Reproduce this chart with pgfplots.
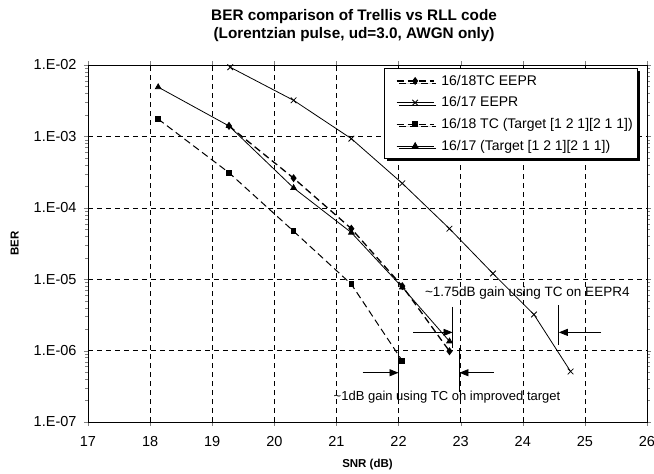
\documentclass[border=0pt]{standalone}
\usepackage{fontspec}
\setmainfont{Liberation Sans}
\usepackage{pgfplots}
\pgfplotsset{compat=1.18}
\usetikzlibrary{arrows.meta,shadows}

\begin{document}
\begin{tikzpicture}
\begin{axis}[
    name=ber,
    scale only axis,
    width=559pt, height=357pt,
    ymode=log,
    xmin=17, xmax=26,
    ymin=1e-7, ymax=1e-2,
    xtick={17,18,...,26},
    ytick={1e-7,1e-6,1e-5,1e-4,1e-3,1e-2},
    yticklabels={1.E-07,1.E-06,1.E-05,1.E-04,1.E-03,1.E-02},
    minor ytick={},
    /pgf/number format/assume math mode=true,
    tick label style={font=\fontsize{14.5}{16}\selectfont},
    xticklabel style={yshift=-7pt},
    yticklabel style={xshift=-4pt},
    tick align=outside,
    major tick length=4pt,
    grid=major,
    grid style={black, dash pattern=on 5pt off 4pt, line width=0.5pt},
    axis line style={black, line width=0.8pt},
    title={BER comparison of Trellis vs RLL code\\(Lorentzian pulse, ud=3.0, AWGN only)},
    title style={at={(axis description cs:0.476,1)}, anchor=south, yshift=14pt,
        align=center, font=\bfseries\fontsize{15.3}{18}\selectfont},
    xlabel={SNR (dB)},
    ylabel={BER},
    label style={font=\bfseries\fontsize{11.5}{13}\selectfont},
    xlabel style={at={(axis description cs:0.5,0)}, anchor=center, yshift=-43pt},
    ylabel style={at={(axis description cs:-0.131,0.5)}, anchor=center},
    legend style={at={(axis description cs:0.984,0.992)}, anchor=north east,
        draw=black, fill=white, line width=0.6pt,
        font=\fontsize{14}{15}\selectfont,
        drop shadow={fill=black, shadow xshift=2.5pt, shadow yshift=-2.5pt, opacity=1},
        row sep=6pt, inner xsep=3pt, inner ysep=5pt},
    legend cell align=left,
    legend image code/.code={%
        \node[inner sep=0pt, minimum size=0pt, draw=none, fill=none] at (-10pt,0pt) {};
        \node[inner sep=0pt, minimum size=0pt, draw=none, fill=none] at (42pt,0pt) {};
        \draw[mark repeat=2,mark phase=2]
        plot coordinates {(0pt,0pt) (18.5pt,0pt) (37pt,0pt)};},
]

% 16/18TC EEPR
\addplot[black, dash pattern=on 7pt off 4pt, line width=1.3pt, mark=diamond*, mark size=3pt,
    mark options={solid}]
    coordinates {(19.27,1.4e-3)(20.31,2.6e-4)(21.24,5.1e-5)(22.06,8.0e-6)(22.82,9.8e-7)};
\addlegendentry{16/18TC EEPR}

% 16/17 EEPR
\addplot[black, line width=0.8pt, mark=x, mark size=4pt]
    coordinates {(19.29,9.3e-3)(20.31,3.2e-3)(21.24,9.3e-4)(22.06,2.2e-4)(22.82,5.1e-5)
    (23.52,1.2e-5)(24.18,3.2e-6)(24.77,5.1e-7)};
\addlegendentry{16/17 EEPR}

% 16/18 TC target
\addplot[black, dash pattern=on 7pt off 4pt, line width=1.0pt, mark=square*, mark size=2.3pt,
    mark options={solid}]
    coordinates {(18.13,1.75e-3)(19.27,3.1e-4)(20.31,4.7e-5)(21.24,8.5e-6)(22.06,7.2e-7)};
\addlegendentry{16/18 TC (Target [1 2 1][2 1 1])}

% 16/17 target
\addplot[black, line width=0.8pt, mark=triangle*, mark size=3.2pt]
    coordinates {(18.13,4.9e-3)(19.27,1.4e-3)(20.31,1.9e-4)(21.24,4.5e-5)(22.06,7.7e-6)(22.82,1.35e-6)};
\addlegendentry{16/17 (Target [1 2 1][2 1 1])}

% annotations
\begin{scope}[line width=0.8pt, >={Triangle[length=9pt,width=7pt]}]
\draw (axis cs:22.87,4.1e-6) -- (axis cs:22.87,1.1e-6);
\draw[->] (axis cs:22.24,1.8e-6) -- (axis cs:22.87,1.8e-6);
\draw (axis cs:24.58,4.3e-6) -- (axis cs:24.58,1.2e-6);
\draw[->] (axis cs:25.26,1.8e-6) -- (axis cs:24.58,1.8e-6);
\node[anchor=west, inner sep=0pt, font=\fontsize{13.5}{15}\selectfont]
    at (axis cs:22.42,6.4e-6) {\textasciitilde 1.75dB gain using TC on EEPR4};

\draw (axis cs:22.0,1.1e-6) -- (axis cs:22.0,2.0e-7);
\draw[->] (axis cs:21.42,4.9e-7) -- (axis cs:22.0,4.9e-7);
\draw (axis cs:22.98,1.1e-6) -- (axis cs:22.98,2.6e-7);
\draw[->] (axis cs:23.53,4.9e-7) -- (axis cs:22.98,4.9e-7);
\node[anchor=west, inner sep=0pt, font=\fontsize{13}{15}\selectfont]
    at (axis cs:20.95,2.2e-7) {\textasciitilde 1dB gain using TC on improved target};
\end{scope}

\end{axis}
\pgfresetboundingbox
\path (-88pt,-52pt) rectangle (566pt,422pt);
\end{tikzpicture}
\end{document}
